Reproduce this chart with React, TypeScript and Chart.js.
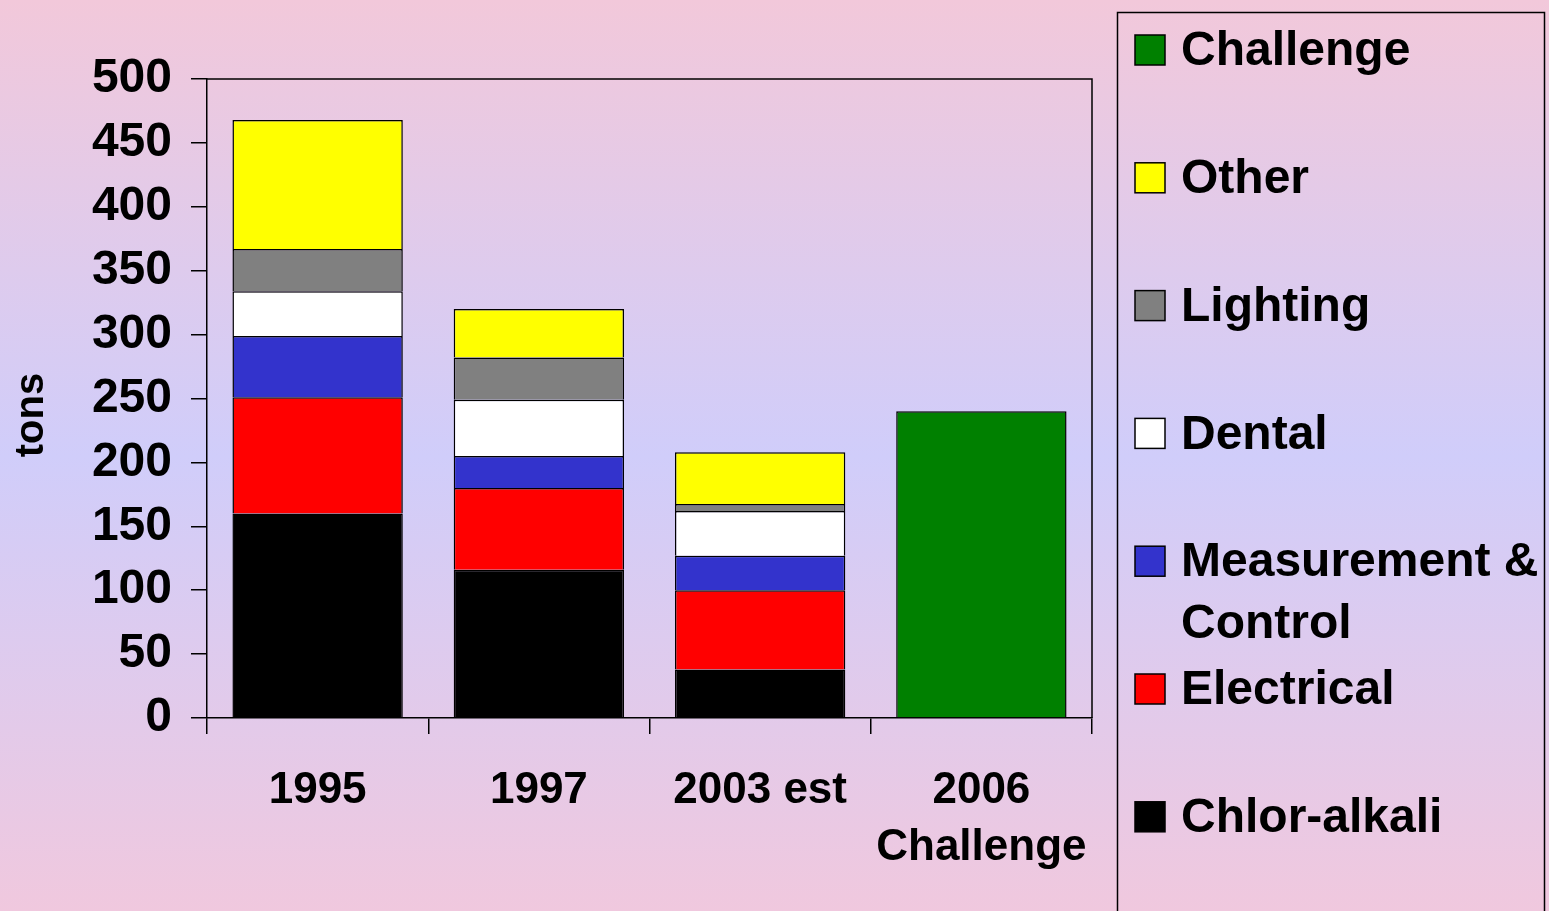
import React, { useEffect, useRef } from 'react';
import { Chart, registerables } from 'chart.js';

Chart.register(...registerables);

const categories: string[][] = [['1995'], ['1997'], ['2003 est'], ['2006', 'Challenge']];
const seriesNames = ['Chlor-alkali', 'Electrical', 'Measurement & Control', 'Dental', 'Lighting', 'Other', 'Challenge'];
const seriesColors = ['#000000', '#ff0000', '#3333cc', '#ffffff', '#808080', '#ffff00', '#008000'];
const chlorAlkali = [160, 116, 38, null];
const electrical = [91, 64, 62, null];
const measurement = [48, 25, 27, null];
const dental = [35, 44, 35, null];
const lighting = [33, 33, 5.5, null];
const other = [101, 38, 40.5, null];
const challenge = [null, null, null, 240];
const seriesValues = [chlorAlkali, electrical, measurement, dental, lighting, other, challenge];
const legendLines: Record<string, string[]> = { 'Measurement & Control': ['Measurement &', 'Control'] };
const yMin = 0;
const yMax = 500;
const yStep = 50;
const yTitle = 'tons';

const FONT = '"Liberation Sans", Arial, sans-serif';

const decor = {
  id: 'decor',
  afterDraw(chart: any) {
    const ctx = chart.ctx as CanvasRenderingContext2D;
    const { left, top, right, bottom } = chart.chartArea;
    ctx.save();
    ctx.strokeStyle = '#000';
    ctx.lineWidth = 1.5;
    ctx.beginPath();
    ctx.moveTo(left, top);
    ctx.lineTo(right, top);
    ctx.lineTo(right, bottom);
    ctx.stroke();

    // y title
    ctx.save();
    ctx.translate(32, 415);
    ctx.rotate(-Math.PI / 2);
    ctx.font = `bold 40px ${FONT}`;
    ctx.fillStyle = '#000';
    ctx.textAlign = 'center';
    ctx.textBaseline = 'middle';
    ctx.fillText(yTitle, 0, 0);
    ctx.restore();

    // legend
    ctx.lineWidth = 1.5;
    ctx.strokeRect(1117.5, 12.5, 427, 930);
    const n = chart.data.datasets.length;
    ctx.font = `bold 48px ${FONT}`;
    ctx.textAlign = 'left';
    ctx.textBaseline = 'middle';
    for (let i = 0; i < n; i++) {
      const ds = chart.data.datasets[n - 1 - i];
      const cy = 50 + i * 127.8;
      ctx.fillStyle = ds.backgroundColor;
      ctx.fillRect(1135, cy - 15, 30, 30);
      ctx.lineWidth = 1.5;
      ctx.strokeStyle = '#000';
      ctx.strokeRect(1135, cy - 15, 30, 30);
      ctx.fillStyle = '#000';
      const lines = legendLines[ds.label] || [ds.label];
      lines.forEach((t, j) => ctx.fillText(t, 1181, cy + 2 + j * 62));
    }
    ctx.restore();
  },
};

export default function App() {
  const ref = useRef<HTMLCanvasElement | null>(null);
  useEffect(() => {
    document.body.style.margin = '0';
    const chart = new Chart(ref.current as HTMLCanvasElement, {
      type: 'bar',
      data: {
        labels: categories,
        datasets: seriesNames.map((name, i) => ({
          label: name,
          data: seriesValues[i],
          backgroundColor: seriesColors[i],
          borderColor: '#000',
          borderWidth: 1.5,
          categoryPercentage: 1,
          barPercentage: 0.77,
        })),
      },
      options: {
        animation: false,
        responsive: false,
        devicePixelRatio: 1,
        layout: { padding: { left: 0, top: 79, right: 457, bottom: 0 } },
        plugins: { legend: { display: false }, tooltip: { enabled: false } },
        scales: {
          x: {
            stacked: true,
            offset: true,
            afterFit: (s: any) => { s.height = 193; },
            grid: { offset: true, drawOnChartArea: false, drawTicks: true, tickLength: 16, color: '#000', lineWidth: 1.5 },
            border: { display: true, color: '#000', width: 1.5 },
            ticks: { color: '#000', font: { family: FONT, size: 44, weight: 'bold', lineHeight: 1.3 }, padding: 28, maxRotation: 0, autoSkip: false },
          },
          y: {
            stacked: true,
            min: yMin,
            max: yMax,
            afterFit: (s: any) => { s.width = 207; },
            grid: { drawOnChartArea: false, drawTicks: true, tickLength: 16, color: '#000', lineWidth: 1.5 },
            border: { display: true, color: '#000', width: 1.5 },
            ticks: { stepSize: yStep, color: '#000', font: { family: FONT, size: 48, weight: 'bold' }, padding: 19 },
          },
        },
      },
      plugins: [decor],
    } as any);
    return () => chart.destroy();
  }, []);
  return (
    <div
      style={{
        position: 'fixed',
        left: 0,
        top: 0,
        width: 1549,
        height: 911,
        background: 'linear-gradient(to bottom, #f2c8da 0%, #d0cdfa 50%, #f0c8de 100%)',
      }}
    >
      <canvas ref={ref} width={1549} height={911} style={{ display: 'block' }} />
    </div>
  );
}
